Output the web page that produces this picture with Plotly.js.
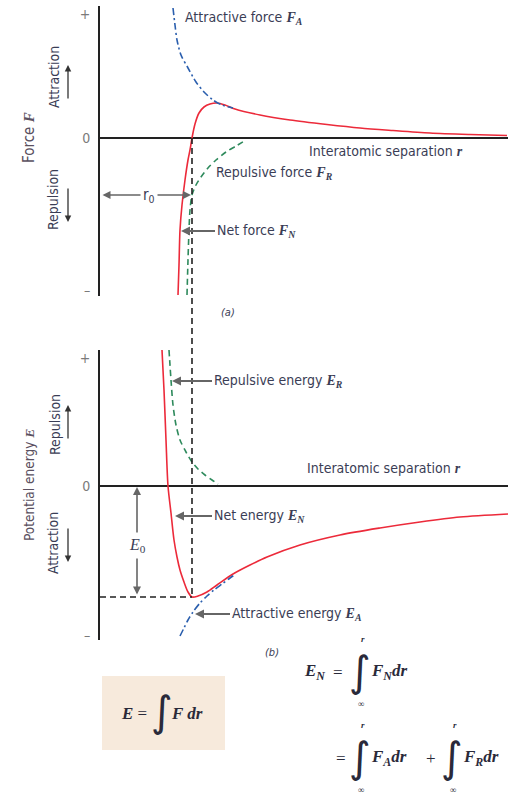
<!DOCTYPE html>
<html><head><meta charset="utf-8">
<script src="https://cdn.plot.ly/plotly-3.0.1.min.js"></script>
<style>html,body{margin:0;padding:0;background:#fff}</style>
</head><body><div id="chart" style="width:528px;height:795px"></div>
<script>
// ---------- (a) Force vs interatomic separation (arbitrary units) ----------
const netForceR = [7.8,7.9,8.0,8.2,8.5,8.8,9.0,9.2,9.5,9.9,10.4,11.0,11.7,12.5,13.5,16,19,22.7,26,29.3,33,37,40.7];
const netForceF = [-15.7,-12.7,-9.2,-6.7,-4.2,-2.2,-1.2,0,1.4,2.5,3.1,3.4,3.5,3.3,2.9,2.3,1.8,1.35,1.0,0.75,0.5,0.35,0.25];
const attrForceR = [7.3,7.5,7.7,8.1,8.8,9.6,10.4,11.3,12.2,13.3];
const attrForceF = [13.0,11.3,9.8,8.3,7.0,5.6,4.6,3.8,3.3,3.0];
const repForceR = [8.7,8.8,8.9,9.0,9.2,9.6,10.1,10.8,11.6,12.6,13.6,14.6];
const repForceF = [-15.7,-12.2,-9.2,-7.2,-5.7,-4.7,-3.9,-3.0,-2.2,-1.4,-0.8,-0.2];

// ---------- (b) Potential energy vs interatomic separation ----------
const netEnergyR = [6.2,6.4,6.6,6.8,7.1,7.4,7.7,8.0,8.4,8.8,9.2,9.8,10.7,11.7,13.3,15,16.7,20,24,28,32,36,40.8];
const netEnergyE = [13.6,9.6,4.6,0,-2.7,-5.4,-7.1,-8.4,-9.6,-10.6,-11.1,-11.0,-10.6,-9.9,-8.8,-7.9,-7.1,-5.9,-4.9,-4.2,-3.6,-3.1,-2.8];
const repEnergyR = [6.9,7.0,7.1,7.3,7.6,8.0,8.6,9.2,9.8,10.5,11.2,11.8];
const repEnergyE = [13.6,12.1,10.6,8.1,6.1,4.6,3.4,2.4,1.7,1.1,0.6,0.2];
const attrEnergyR = [8.0,8.4,8.8,9.3,10.0,10.7,11.4,12.2,13.0,13.6];
const attrEnergyE = [-15.0,-14.2,-13.4,-12.6,-11.7,-11.0,-10.4,-9.8,-9.2,-8.8];

// equilibrium values
const r0 = 9.2;
const E0min = -11.1;

// tick labels
const forceTickVals = [-15.2, 0, 12.4];
const energyTickVals = [-14.9, 0, 12.8];
const tickText = ['\u2013', '0', '+'];

// ---------- geometry helpers ----------
const W = 528, H = 795;
const px = x => x / W;
const py = y => 1 - y / H;
const xDomain = [px(100), px(508)];
const xRange = [0, 40.8];
const yDomTop = [py(296), py(6)];
const yRangeTop = [-15.8, 13.2];
const yDomBot = [py(640), py(350)];
const yRangeBot = [-15.4, 13.6];
const toPaper = (v, dom, rng) => dom[0] + (v - rng[0]) / (rng[1] - rng[0]) * (dom[1] - dom[0]);

const RED = '#ec2a3a', BLUE = '#2b5fae', GREEN = '#2e8a5c', TXT = '#3a3d55';
const SANS = "'Liberation Sans Narrow','DejaVu Sans Condensed','Arial Narrow','Liberation Sans',sans-serif";
const SERIF = "'Liberation Serif','DejaVu Serif',serif";
const V = (l, s) => `<span style="font-family:Liberation Serif,serif"><b><i>${l}</i></b>${s ? '<sub><b><i>' + s + '</i></b></sub>' : ''}</span>`;

const traces = [
  {x: netForceR, y: netForceF, xaxis:'x', yaxis:'y', mode:'lines', line:{color:RED, width:1.6, shape:'spline', smoothing:0.8}},
  {x: attrForceR, y: attrForceF, xaxis:'x', yaxis:'y', mode:'lines', line:{color:BLUE, width:1.6, shape:'spline', smoothing:0.8, dash:'7px,3px,2px,3px'}},
  {x: repForceR, y: repForceF, xaxis:'x', yaxis:'y', mode:'lines', line:{color:GREEN, width:1.6, shape:'spline', smoothing:0.8, dash:'6px,4px'}},
  {x: netEnergyR, y: netEnergyE, xaxis:'x', yaxis:'y2', mode:'lines', line:{color:RED, width:1.6, shape:'spline', smoothing:0.8}},
  {x: repEnergyR, y: repEnergyE, xaxis:'x', yaxis:'y2', mode:'lines', line:{color:GREEN, width:1.6, shape:'spline', smoothing:0.8, dash:'6px,4px'}},
  {x: attrEnergyR, y: attrEnergyE, xaxis:'x', yaxis:'y2', mode:'lines', line:{color:BLUE, width:1.6, shape:'spline', smoothing:0.8, dash:'7px,3px,2px,3px'}}
];

const yCommon = {
  showgrid:false, zeroline:true, zerolinecolor:'#222', zerolinewidth:2,
  showline:true, linecolor:'#222', linewidth:2, anchor:'x',
  ticks:'outside', ticklen:5, tickcolor:'rgba(0,0,0,0)',
  tickmode:'array', ticktext:tickText,
  tickfont:{family:SANS, size:14, color:'#7a7a7a'}, fixedrange:true
};

const LF = {family:SANS, size:14, color:TXT};
const lbl = (x, y, text, extra) => Object.assign({x, y, xref:'x', yref:'y', text, showarrow:false, xanchor:'left', yanchor:'middle', font:LF}, extra || {});
// label with a pointer arrow: text box starts at the arrow tail (ax), head at x
const lblArr = (x, y, ax, text, yref) => ({x, y, ax, ay:y, xref:'x', yref, axref:'x', ayref:yref, text, xanchor:'left', yanchor:'middle', font:LF,
  showarrow:true, arrowhead:2, arrowsize:1, arrowwidth:1.8, arrowcolor:'#666', standoff:0});
// double-headed dimension arrow
const dim = (x, y, ax, ay, yref) => ({x, y, ax, ay, xref:'x', yref, axref:'x', ayref:yref, text:'', showarrow:true, arrowside:'end+start',
  arrowhead:2, startarrowhead:2, arrowsize:1, startarrowsize:1, arrowwidth:1.6, arrowcolor:'#666', standoff:0, startstandoff:0});
const parr = (x, y, ax, ay) => ({x:px(x), y:py(y), xref:'paper', yref:'paper', ax, ay, text:'', showarrow:true, arrowhead:2, arrowsize:1, arrowwidth:1.3, arrowcolor:'#333', standoff:0});
const ptxt = (x, y, text, extra) => Object.assign({x:px(x), y:py(y), xref:'paper', yref:'paper', text, showarrow:false, xanchor:'center', yanchor:'middle', font:LF}, extra || {});
const INT = {family:"'DejaVu Sans',sans-serif", size:42, color:'#2a2a3a'};
const EQ = {family:SERIF, size:17, color:'#2a2a3a'};
const LIM = {family:SERIF, size:9, color:'#2a2a3a'};

const annotations = [
  // panel (a) labels
  lbl(8.3, 12.0, 'Attractive force ' + V('F','A')),
  lbl(20.7, -1.3, 'Interatomic separation ' + V('r')),
  lbl(11.4, -3.5, 'Repulsive force ' + V('F','R')),
  lblArr(8.1, -9.3, 11.5, 'Net force ' + V('F','N'), 'y'),
  // r0 dimension arrow
  dim(9.1, -5.7, 0.1, -5.7, 'y'),
  lbl(4.9, -5.7, 'r<sub>0</sub>', {xanchor:'center', bgcolor:'#fff', borderpad:2, font:{family:SANS, size:15, color:TXT}}),
  // panel (b) labels
  lblArr(7.2, 10.5, 11.2, 'Repulsive energy ' + V('E','R'), 'y2'),
  lbl(20.5, 1.8, 'Interatomic separation ' + V('r'), {yref:'y2'}),
  lblArr(7.5, -3.0, 11.2, 'Net energy ' + V('E','N'), 'y2'),
  lblArr(9.5, -12.8, 13.0, 'Attractive energy ' + V('E','A'), 'y2'),
  // E0 dimension arrow
  dim(3.7, -0.1, 3.7, -11.0, 'y2'),
  lbl(3.7, -5.9, '<i>E</i><sub>0</sub>', {yref:'y2', xanchor:'center', bgcolor:'#fff', borderpad:3, font:{family:SERIF, size:16, color:TXT}}),
  // axis titles & side labels
  ptxt(29, 138, 'Force ' + V('F'), {textangle:-90, font:{family:SANS, size:15, color:'#5a5060'}}),
  ptxt(54, 77, 'Attraction', {textangle:-90}),
  parr(68, 65, 0, 35),
  ptxt(53, 200, 'Repulsion', {textangle:-90}),
  parr(68, 222, 0, -35),
  ptxt(29, 485, 'Potential energy ' + V('E'), {textangle:-90, font:{family:SANS, size:13.5, color:'#5a5060'}}),
  ptxt(55, 425, 'Repulsion', {textangle:-90}),
  parr(68, 405, 0, 35),
  ptxt(53, 543, 'Attraction', {textangle:-90}),
  parr(68, 562, 0, -35),
  ptxt(228, 312, '<i>(a)</i>', {font:{family:SANS, size:11, color:TXT}}),
  ptxt(272, 652, '<i>(b)</i>', {font:{family:SANS, size:11, color:TXT}}),
  // boxed formula E = ∫ F dr
  ptxt(149, 713, '<b><i>E</i></b> =', {xanchor:'right', font:EQ}),
  ptxt(162, 711, '\u222B', {font:INT}),
  ptxt(169, 713, '<b><i>F dr</i></b>', {xanchor:'left', font:EQ}),
  // E_N = ∫ F_N dr
  ptxt(327, 672, '<b><i>E</i></b><sub><b><i>N</i></b></sub>', {xanchor:'right', font:EQ}),
  ptxt(338, 672, '=', {font:EQ}),
  ptxt(360, 671, '\u222B', {font:INT}),
  ptxt(363, 639, '<b><i>r</i></b>', {font:LIM}),
  ptxt(361, 704, '\u221E', {font:LIM}),
  ptxt(369, 672, '<b><i>F</i></b><sub><b><i>N</i></b></sub><b><i>dr</i></b>', {xanchor:'left', font:EQ}),
  // = ∫ F_A dr + ∫ F_R dr
  ptxt(341, 758, '=', {font:EQ}),
  ptxt(360, 757, '\u222B', {font:INT}),
  ptxt(363, 725, '<b><i>r</i></b>', {font:LIM}),
  ptxt(361, 790, '\u221E', {font:LIM}),
  ptxt(369, 758, '<b><i>F</i></b><sub><b><i>A</i></b></sub><b><i>dr</i></b>', {xanchor:'left', font:EQ}),
  ptxt(431, 758, '+', {font:EQ}),
  ptxt(452, 757, '\u222B', {font:INT}),
  ptxt(455, 725, '<b><i>r</i></b>', {font:LIM}),
  ptxt(453, 790, '\u221E', {font:LIM}),
  ptxt(461, 758, '<b><i>F</i></b><sub><b><i>R</i></b></sub><b><i>dr</i></b>', {xanchor:'left', font:EQ})
];

const shapes = [
  {type:'rect', xref:'paper', yref:'paper', x0:px(102), x1:px(225), y0:py(750), y1:py(676), fillcolor:'#f7eadc', line:{width:0}, layer:'below'},
  {type:'line', xref:'x', yref:'paper', x0:r0, x1:r0,
   y0:toPaper(0, yDomTop, yRangeTop), y1:toPaper(E0min, yDomBot, yRangeBot),
   line:{color:'#222', width:1.6, dash:'6px,4px'}},
  {type:'line', xref:'x', yref:'y2', x0:0, x1:r0, y0:E0min, y1:E0min,
   line:{color:'#222', width:1.6, dash:'6px,4px'}}
];

const layout = {
  width:W, height:H, margin:{l:0, r:0, t:0, b:0},
  paper_bgcolor:'#fff', plot_bgcolor:'rgba(0,0,0,0)', showlegend:false,
  xaxis:{domain:xDomain, range:xRange, showgrid:false, zeroline:false, showline:false, showticklabels:false, ticks:'', fixedrange:true},
  yaxis:Object.assign({}, yCommon, {domain:yDomTop, range:yRangeTop, tickvals:forceTickVals}),
  yaxis2:Object.assign({}, yCommon, {domain:yDomBot, range:yRangeBot, tickvals:energyTickVals}),
  annotations, shapes
};

Plotly.newPlot('chart', traces, layout, {displayModeBar:false, staticPlot:true});
</script></body></html>
